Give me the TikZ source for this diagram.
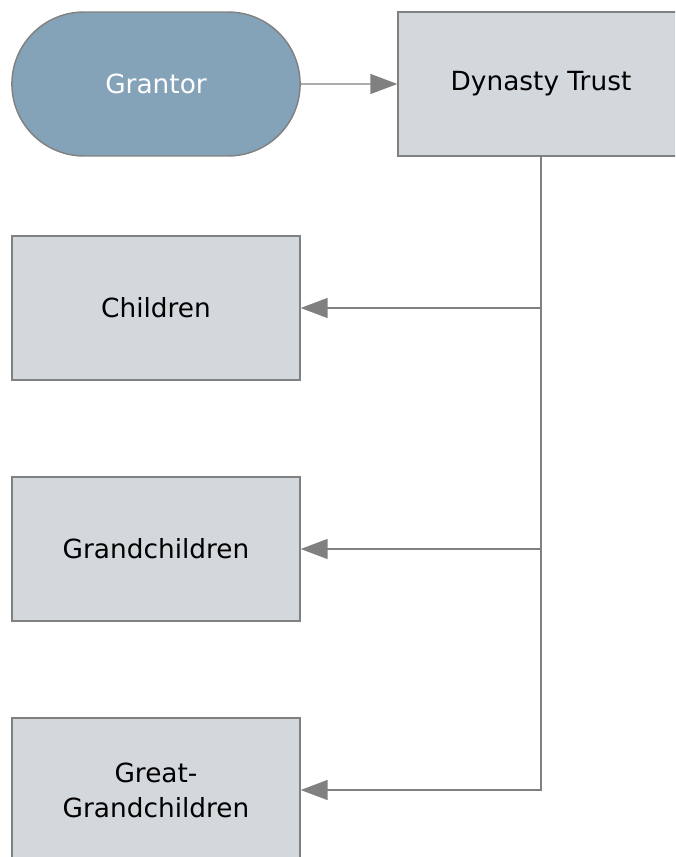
\documentclass[tikz,border=0pt]{standalone}
\usepackage{fontspec}
\setmainfont{DejaVu Sans}
\usepackage{tikz}
\usetikzlibrary{shapes.misc, arrows.meta}
\definecolor{boxfill}{HTML}{D3D8DC}
\definecolor{grantorfill}{HTML}{84A3B8}
\definecolor{edgegray}{HTML}{808080}
\tikzset{
    box/.style={draw=edgegray, fill=boxfill, line width=0.8pt, minimum width=5.76cm, minimum height=2.88cm, align=center, font=\fontsize{15}{20}\selectfont},
    grantorbox/.style={box, rounded rectangle, minimum width=6.0cm, fill=grantorfill, text=white},
    link/.style={draw=edgegray, line width=0.8pt, -{Triangle[length=0.54cm, width=0.4cm]}}
}

\begin{document}
\begin{tikzpicture}[x=0.02cm, y=-0.02cm]
    \useasboundingbox (0,0) rectangle (675,857);
    \clip (0,0) rectangle (675,857);
    \node[grantorbox] (grantor) at (156,84) {Grantor};
    \node[box, minimum width=5.72cm] (trust) at (541,84) {Dynasty Trust};
    \node[box] (children) at (156,308) {Children};
    \node[box] (grandchildren) at (156,549) {Grandchildren};
    \node[box] (greatgrand) at (156,790) {Great-\\Grandchildren};
    \draw[link] (grantor) -- (trust);
    \draw[link] (trust.south) |- (children.east);
    \draw[link] (trust.south) |- (grandchildren.east);
    \draw[link] (trust.south) |- (greatgrand.east);
\end{tikzpicture}
\end{document}
